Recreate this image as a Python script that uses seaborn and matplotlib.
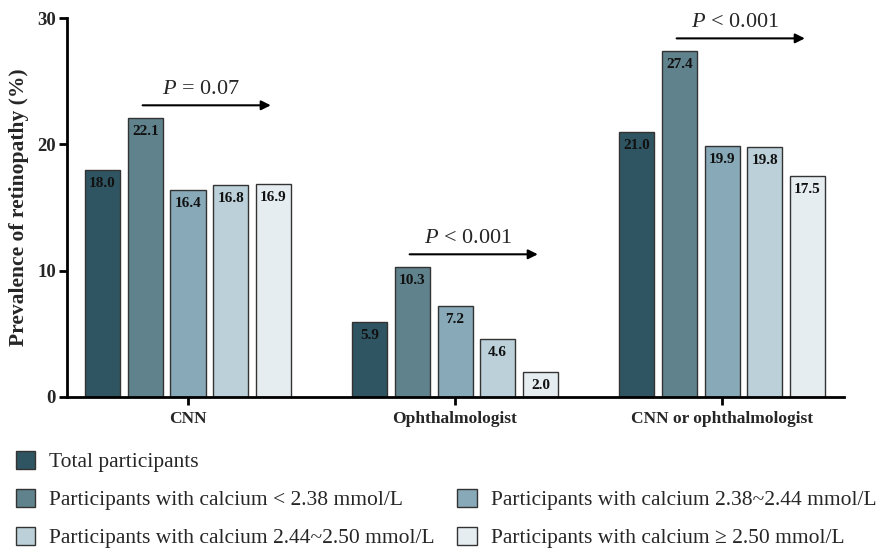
import matplotlib
matplotlib.use("Agg")
import matplotlib.pyplot as plt
import seaborn as sns
import pandas as pd
from matplotlib.patches import Patch

categories = ["CNN", "Ophthalmologist", "CNN or ophthalmologist"]
groups = ["Total participants",
          "Participants with calcium < 2.38 mmol/L",
          "Participants with calcium 2.38~2.44 mmol/L",
          "Participants with calcium 2.44~2.50 mmol/L",
          "Participants with calcium \u2265 2.50 mmol/L"]
total = [18.0, 5.9, 21.0]
calc_lt_238 = [22.1, 10.3, 27.4]
calc_238_244 = [16.4, 7.2, 19.9]
calc_244_250 = [16.8, 4.6, 19.8]
calc_ge_250 = [16.9, 2.0, 17.5]
p_labels = ["= 0.07", "< 0.001", "< 0.001"]
y_ticks = [0, 10, 20, 30]

colors = ["#2f5562", "#5f828c", "#87a9b8", "#bcd0d9", "#e6edf1"]

series = [total, calc_lt_238, calc_238_244, calc_244_250, calc_ge_250]
rows = []
for g, vals in zip(groups, series):
    for c, v in zip(categories, vals):
        rows.append({"cat": c, "grp": g, "val": v})
df = pd.DataFrame(rows)

sns.set_style("ticks")
plt.rcParams["font.family"] = ["Liberation Serif", "DejaVu Serif"]
plt.rcParams["mathtext.fontset"] = "custom"
plt.rcParams["mathtext.rm"] = "Liberation Serif"
plt.rcParams["mathtext.it"] = "Liberation Serif:italic"

fig = plt.figure(figsize=(8.82, 5.51), dpi=100)
ax = fig.add_axes([0.076, 0.2795, 0.881, 0.6875])

sns.barplot(data=df, x="cat", y="val", hue="grp", hue_order=groups,
            order=categories, palette=colors, saturation=1, width=0.8,
            gap=0.18, edgecolor="#333333", linewidth=1.0, errorbar=None,
            legend=False, ax=ax)

for cont in ax.containers:
    for bar in cont:
        h = bar.get_height()
        ax.text(bar.get_x() + bar.get_width() / 2, h - 0.55, f"{h:.1f}",
                ha="center", va="top", fontsize=11, fontweight="bold",
                color="#111111")

ax.set_xlim(-0.453, 2.457)
ax.set_ylim(0, 30)
ax.set_yticks(y_ticks)
ax.set_ylabel("Prevalence of retinopathy (%)", fontsize=15.5,
              fontweight="bold", labelpad=6)
ax.set_xlabel("")
for lab in ax.get_yticklabels():
    lab.set_fontweight("bold")
    lab.set_fontsize(13.5)
for lab in ax.get_xticklabels():
    lab.set_fontweight("bold")
    lab.set_fontsize(12.5)
ax.tick_params(axis="both", width=2, length=6, color="black")
ax.tick_params(axis="x", pad=4)
ax.tick_params(axis="y", pad=2)
sns.despine(ax=ax)
for s in ["left", "bottom"]:
    ax.spines[s].set_linewidth(2)
    ax.spines[s].set_color("black")

# trend arrows and P annotations
tops = [max(v) for v in zip(*series)]
for i, (p, top) in enumerate(zip(p_labels, tops)):
    y_arrow = top + 1.0
    x0, x1 = i - 0.17, i + 0.31
    ax.annotate("", xy=(x1, y_arrow), xytext=(x0, y_arrow),
                arrowprops=dict(arrowstyle="-|>", color="black", lw=1.5,
                                mutation_scale=14, shrinkA=0, shrinkB=0),
                annotation_clip=False)
    ax.text((x0 + x1) / 2 - 0.02, y_arrow + 0.5, f"$\\mathit{{P}}$ {p}",
            ha="center", va="bottom", fontsize=16, clip_on=False)

handles = [Patch(facecolor=c, edgecolor="#333333", linewidth=1.0) for c in colors]
blank = Patch(facecolor="none", edgecolor="none")
leg_handles = [handles[0], handles[1], handles[3], blank, handles[2], handles[4]]
leg_labels = [groups[0], groups[1], groups[3], "", groups[2], groups[4]]
fig.legend(leg_handles, leg_labels, ncol=2, loc="upper left",
           bbox_to_anchor=(0.008, 0.197), frameon=False, fontsize=15.5,
           handlelength=0.9, handleheight=0.9, handletextpad=0.65,
           columnspacing=1.05, labelspacing=0.77, borderaxespad=0)

fig.savefig("out.png", dpi=100)
